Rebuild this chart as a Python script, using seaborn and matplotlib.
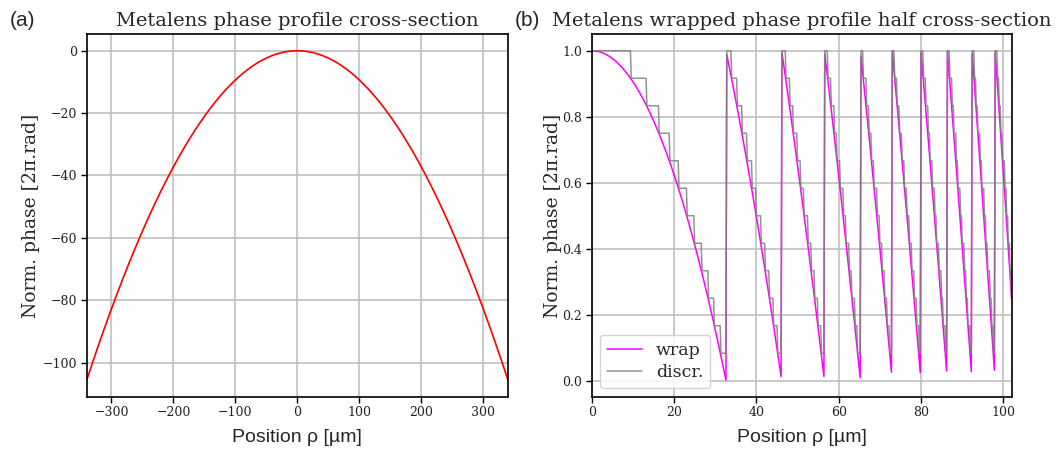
import numpy as np
import pandas as pd
import matplotlib
matplotlib.use("Agg")
import matplotlib.pyplot as plt
import seaborn as sns

# Lens design parameters
focal_length_um = [1000.0]      # focal length f [µm]
wavelength_um = [0.532]         # design wavelength [µm]
aperture_radius_um = [340.0]    # half aperture of the full cross-section [µm]
half_section_max_um = [102.0]   # extent of the wrapped half cross-section [µm]
sampling_step_um = [0.2]        # sampling pitch along rho [µm]
phase_levels = [12]             # number of discrete phase levels

# Axis ticks
left_xticks = [-300, -200, -100, 0, 100, 200, 300]
left_yticks = [0, -20, -40, -60, -80, -100]
right_xticks = [0, 20, 40, 60, 80, 100]
right_yticks = [0.0, 0.2, 0.4, 0.6, 0.8, 1.0]

f = focal_length_um[0]
lam = wavelength_um[0]


def norm_phase(rho):
    """Hyperbolic focusing phase, normalised to 2*pi."""
    return (f - np.sqrt(rho ** 2 + f ** 2)) / lam


rho_full = np.linspace(-aperture_radius_um[0], aperture_radius_um[0], 1361)
full_df = pd.DataFrame({"rho": rho_full, "phase": norm_phase(rho_full)})

rho_half = np.arange(0.0, half_section_max_um[0] + 1e-9, sampling_step_um[0])
wrapped = 1.0 - np.mod(-norm_phase(rho_half), 1.0)
n_lv = phase_levels[0]
discrete = np.ceil(wrapped * n_lv - 1e-9) / n_lv
half_df = pd.DataFrame({"rho": rho_half, "wrap": wrapped, "discr": discrete})

sns.set_theme(style="whitegrid")
plt.rcParams["font.family"] = ["DejaVu Serif"]
plt.rcParams["mathtext.fontset"] = "dejavuserif"

fig = plt.figure(figsize=(10.61, 4.51), dpi=100)
ax1 = fig.add_axes([0.0817, 0.1204, 0.3971, 0.8036])
ax2 = fig.add_axes([0.5577, 0.1204, 0.3958, 0.8036])

sns.lineplot(data=full_df, x="rho", y="phase", ax=ax1, color="red",
             linewidth=1.2, estimator=None, sort=False)
sns.lineplot(data=half_df, x="rho", y="wrap", ax=ax2, color="magenta",
             linewidth=1.1, estimator=None, sort=False, label="wrap")
sns.lineplot(data=half_df, x="rho", y="discr", ax=ax2, color="gray",
             linewidth=1.1, alpha=0.85, estimator=None, sort=False,
             label="discr.")

ax1.set_xlim(-aperture_radius_um[0], aperture_radius_um[0])
ax1.set_xticks(left_xticks)
ax1.set_yticks(left_yticks)
ax2.set_xlim(0, half_section_max_um[0])
ax2.set_xticks(right_xticks)
ax2.set_yticks(right_yticks)
ax2.yaxis.set_major_formatter(matplotlib.ticker.FormatStrFormatter("%.1f"))

for ax, title, ypad in ((ax1, "Metalens phase profile cross-section", 2),
                        (ax2, "Metalens wrapped phase profile half cross-section", 0)):
    ax.set_facecolor("white")
    ax.grid(True, color="#c0c0c0", linewidth=1.2)
    for sp in ax.spines.values():
        sp.set_color("black")
        sp.set_linewidth(1.2)
    ax.tick_params(axis="both", which="major", direction="out", length=4,
                   width=1.0, color="black", labelsize=9, labelcolor="#222222",
                   bottom=True, left=True, pad=3)
    ax.set_title(title, fontsize=14, family="DejaVu Serif", pad=6)
    ax.set_xlabel("Position ρ [µm]", fontsize=14,
                  family=["Liberation Sans", "DejaVu Sans"], labelpad=7)
    ax.set_ylabel("Norm. phase [2π.rad]", fontsize=13.5, family="DejaVu Serif",
                  labelpad=ypad)

leg = ax2.legend(loc="lower left", fontsize=12.5, frameon=True,
                 handlelength=2.0, borderpad=0.4, labelspacing=0.3)
leg.get_frame().set_edgecolor("#cccccc")
leg.get_frame().set_alpha(0.85)

fig.text(0.009, 0.975, "(a)", fontsize=15, va="top", ha="left",
         family=["Liberation Sans", "DejaVu Sans"])
fig.text(0.485, 0.975, "(b)", fontsize=15, va="top", ha="left",
         family=["Liberation Sans", "DejaVu Sans"])

fig.savefig("out.png", dpi=100)
